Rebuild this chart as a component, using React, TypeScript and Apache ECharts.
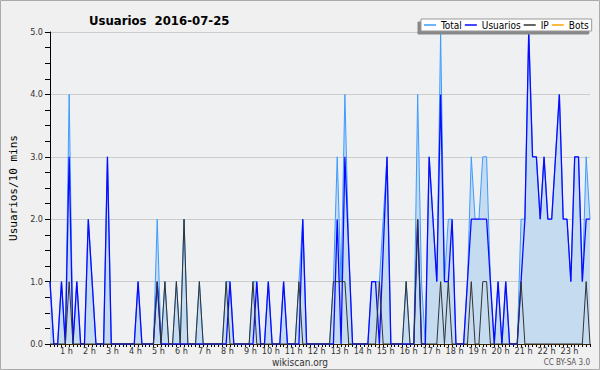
import React, { useEffect, useRef } from "react";
import * as echarts from "echarts";

// 10-minute slots from 00:00 to 23:30
const slots: string[] = [];
for (let h = 0; h < 24; h++) {
  for (let m = 0; m < 60; m += 10) {
    if (slots.length < 142) slots.push(`${String(h).padStart(2, "0")}:${String(m).padStart(2, "0")}`);
  }
}
const hourLabels = ["1 h","2 h","3 h","4 h","5 h","6 h","7 h","8 h","9 h","10 h","11 h","12 h","13 h","14 h","15 h","16 h","17 h","18 h","19 h","20 h","21 h","22 h","23 h"];
const yTicks = [0, 1, 2, 3, 4, 5];

const total = [
  1,0,0,1,0,4,0,1,0,0, 2,1,0,0,0,3,0,0,0,0,
  0,0,0,1,0,0,0,0,2,0, 1,0,0,1,0,2,0,0,0,1,
  0,0,0,0,0,0,1,1,0,0, 0,0,0,1,1,0,0,1,0,0,
  0,1,0,0,0,1,2,0,0,0, 0,0,0,0,1,3,1,4,1.5,0,
  0,0,0,0,1,1,1,2,3,0, 0,0,0,1,0,0,4,1,0,3,
  2,1,5,1,2,2,0,0,0,1, 3,2,2,3,3,1,0,1,0,1,
  0,0,0,2,2,5,3,3,2,3, 2,2,3,4,2,2,1,3,3,1,
  3,2
];
const usuarios = [
  1,0,0,1,0,3,0,1,0,0, 2,1,0,0,0,3,0,0,0,0,
  0,0,0,1,0,0,0,0,1,0, 0,0,0,0,0,0,0,0,0,0,
  0,0,0,0,0,0,0,1,0,0, 0,0,0,0,1,0,0,1,0,0,
  0,1,0,0,0,0,2,0,0,0, 0,0,0,0,0,2,0,3,1.5,0,
  0,0,0,0,1,1,0,1.5,3,0, 0,0,0,0,0,0,2,0,0,3,
  2,1,4,1,1,2,0,0,0,1, 2,2,2,2,2,1,0,1,0,1,
  0,0,0,1,2,5,3,3,2,3, 2,2,3,4,2,2,1,3,3,1,
  2,2
];
const ip = [
  0,0,0,0,0,1,0,0,0,0, 0,0,0,0,0,0,0,0,0,0,
  0,0,0,0,0,0,0,0,1,0, 1,0,0,1,0,2,0,0,0,1,
  0,0,0,0,0,0,1,0,0,0, 0,0,0,1,0,0,0,0,0,0,
  0,0,0,0,0,1,0,0,0,0, 0,0,0,0,1,1,1,1,0,0,
  0,0,0,0,0,0,1,0,0,0, 0,0,0,1,0,0,2,0,0,0,
  0,0,1,0,1,0,0,0,0,0, 1,0,0,1,1,0,0,0,0,0,
  0,0,0,1,0,0,0,0,0,0, 0,0,0,0,0,0,0,0,0,0,
  1,0
];
const bots = slots.map(() => 0);

const FONT = "'DejaVu Sans Condensed', 'DejaVu Sans', sans-serif";

export default function App() {
  const ref = useRef<HTMLDivElement>(null);
  useEffect(() => {
    document.body.style.margin = "0";
    const chart = echarts.init(ref.current!, null, { renderer: "svg" });
    chart.setOption({
      animation: false,
      backgroundColor: "#f0f0f0",
      textStyle: { fontFamily: FONT },
      title: {
        text: "Usuarios  2016-07-25",
        left: 84,
        top: 9,
        textStyle: { fontFamily: FONT, fontSize: 13, fontWeight: "bold", color: "#000" },
      },
      legend: {
        left: 421,
        top: 19,
        width: 260,
        padding: [1, 3, 1, 3],
        itemGap: 3,
        itemWidth: 12,
        itemHeight: 1.5,
        icon: "rect",
        backgroundColor: "#ffffff",
        borderColor: "#999",
        borderWidth: 1,
        borderRadius: 0,
        shadowColor: "#888",
        shadowBlur: 0,
        shadowOffsetX: -3,
        shadowOffsetY: 3,
        textStyle: { fontFamily: FONT, fontSize: 10, color: "#000" },
        data: ["Total", "Usuarios", "IP", "Bots"],
      },
      grid: {
        left: 46,
        right: 10,
        top: 32,
        bottom: 26,
        show: true,
        backgroundColor: "#eef0f2",
        borderWidth: 0,
      },
      xAxis: {
        type: "category",
        boundaryGap: false,
        data: slots,
        axisLine: { lineStyle: { color: "#000", width: 1 } },
        axisTick: { show: true, interval: 0, length: 3, lineStyle: { color: "#000" } },
        axisLabel: {
          interval: (i: number) => i > 0 && i % 6 === 0,
          formatter: (_v: string, i: number) => hourLabels[i / 6 - 1] ?? "",
          align: "right",
          fontSize: 9,
          lineHeight: 9,
          color: "#333",
          margin: 2,
          fontFamily: FONT,
        },
        splitLine: { show: false },
      },
      yAxis: {
        type: "value",
        min: yTicks[0],
        max: yTicks[yTicks.length - 1],
        interval: 1,
        name: "Usuarios/10 mins",
        nameLocation: "middle",
        nameGap: 31,
        nameTextStyle: { fontFamily: "'DejaVu Sans Mono', monospace", fontSize: 11, color: "#000" },
        axisLine: { show: true, lineStyle: { color: "#000", width: 1 } },
        axisTick: { show: true, length: 5, lineStyle: { color: "#000" } },
        minorTick: { show: true, splitNumber: 4, length: 5, lineStyle: { color: "#000" } },
        splitLine: { show: true, lineStyle: { color: "#cccccc", width: 1 } },
        axisLabel: {
          formatter: (v: number) => v.toFixed(1),
          fontSize: 9,
          color: "#333",
          margin: 7,
          fontFamily: FONT,
        },
      },
      series: [
        {
          name: "Bots",
          type: "line",
          data: bots,
          showSymbol: false,
          lineStyle: { color: "#ffa500", width: 1 },
          itemStyle: { color: "#ffa500" },
          z: 1,
        },
        {
          name: "Total",
          type: "line",
          data: total,
          showSymbol: false,
          lineStyle: { color: "#3d9bff", width: 1 },
          itemStyle: { color: "#3d9bff" },
          areaStyle: { color: "#c4dbf0", opacity: 1 },
          z: 2,
        },
        {
          name: "Usuarios",
          type: "line",
          data: usuarios,
          showSymbol: false,
          lineStyle: { color: "#0a0aff", width: 1.3 },
          itemStyle: { color: "#0a0aff" },
          z: 3,
        },
        {
          name: "IP",
          type: "line",
          data: ip,
          showSymbol: false,
          lineStyle: { color: "#333333", width: 1 },
          itemStyle: { color: "#333333" },
          z: 4,
        },
      ],
      graphic: [
        {
          type: "rect",
          shape: { x: 0.5, y: 0.5, width: 599, height: 369 },
          style: { fill: "none", stroke: "#aaaaaa", lineWidth: 1 },
          silent: true,
        },
        {
          type: "text",
          x: 300,
          y: 362,
          style: { text: "wikiscan.org", fontFamily: FONT, fontSize: 10, fill: "#333", textAlign: "center", textVerticalAlign: "middle" },
        },
        {
          type: "text",
          x: 590,
          y: 362,
          style: { text: "CC BY-SA 3.0", fontFamily: FONT, fontSize: 8, fill: "#555", textAlign: "right", textVerticalAlign: "middle" },
        },
      ],
    });
    return () => chart.dispose();
  }, []);
  return <div ref={ref} style={{ width: 600, height: 370 }} />;
}
